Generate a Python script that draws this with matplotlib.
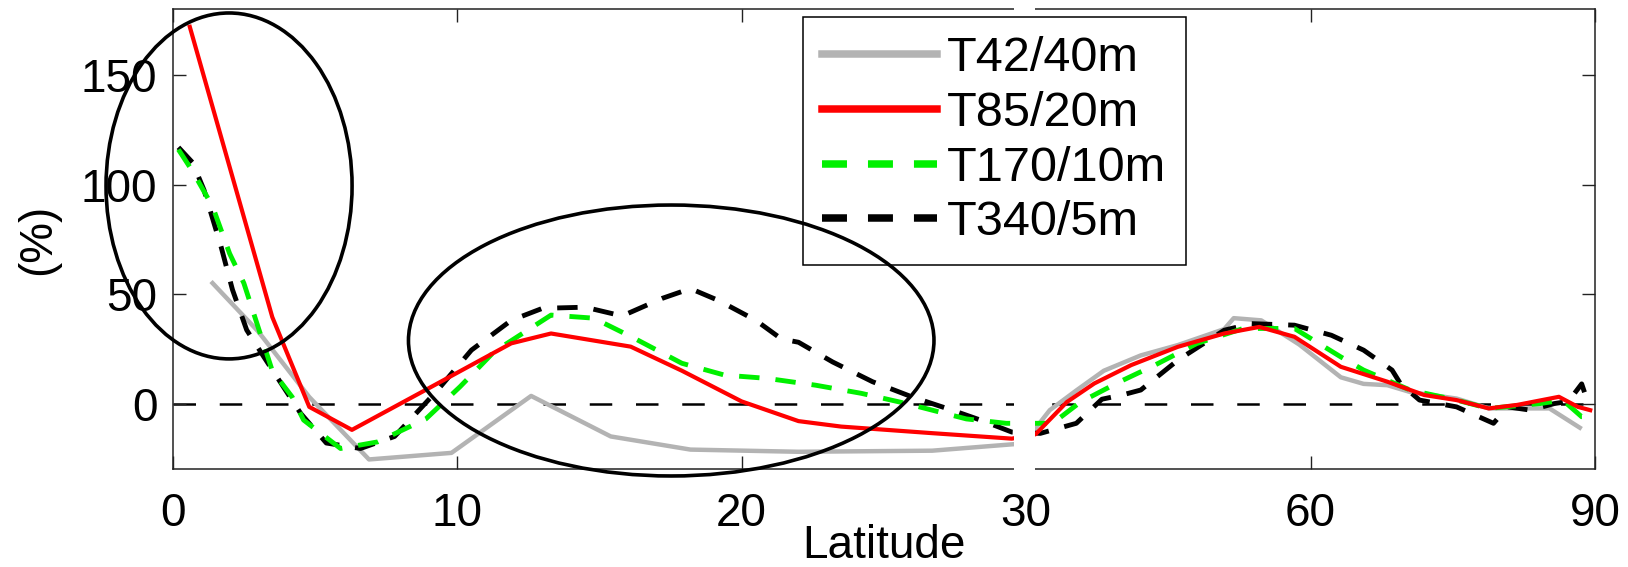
import numpy as np
import matplotlib
matplotlib.use("Agg")
import matplotlib.pyplot as plt
from matplotlib.patches import Ellipse, Rectangle
from matplotlib.transforms import blended_transform_factory

plt.rcParams['font.family'] = ['Liberation Sans', 'DejaVu Sans']

# ---------------- data ----------------
lat_t42 = [1.4, 3.0, 4.8, 6.9, 9.8, 12.6, 15.4, 18.2, 22.0, 26.7, 29.6,
           30.5, 32.5, 35.3, 38.2, 42.1, 46.0, 50.9, 51.9, 54.8, 58.8, 63.2, 65.6,
           68.1, 70.5, 75.4, 78.8, 85.2, 88.4]
val_t42 = [55, 33, 3, -25.5, -22.5, 3.5, -15, -21, -22, -21.5, -18.5,
           -14, -3, 6, 15, 22, 26.7, 34, 39, 38, 27, 12, 9,
           8.4, 5.3, 2.3, -2.2, -2.2, -11]

lat_t85 = [0.6, 3.5, 4.8, 6.3, 9.0, 11.9, 13.3, 16.1, 17.9, 20.0, 22.0, 23.5, 26.7, 29.5,
           31.0, 34.3, 37.2, 41.1, 46.0, 50.9, 54.6, 58.3, 63.2, 68.1, 72.0, 75.4,
           78.8, 81.8, 86.2, 88.2, 89.5]
val_t85 = [172, 39.5, -1.5, -12, 7, 27.5, 32, 26, 15, 1, -8, -10.5, -13.5, -16,
           -14, 0.7, 9.2, 17.6, 25.9, 32, 35, 30.5, 16.8, 10, 3.9, 1.6,
           -2.2, -0.6, 3.1, -1.5, -3]

lat_t170 = [0.2, 0.7, 1.4, 2.0, 2.5, 3.0, 3.5, 4.2, 4.6, 5.9, 7.2, 8.9, 10.1, 11.3, 13.3,
            14.8, 16.2, 17.9, 19.4, 20.9, 22.6, 24.2, 25.8, 27.9, 29.3,
            30.9, 32.8, 35.7, 39.7, 43.6, 48.0, 52.9, 58.3, 63.2, 65.6, 70.5, 75.4,
            78.8, 84.2, 86.6, 88.6, 89.5]
val_t170 = [116, 106, 90, 68.5, 55, 35, 15, 3, -7.5, -20.5, -17.5, -7, 7.7, 23.7, 40.4,
            39, 30, 18.4, 13, 11.5, 8.4, 4.7, 0, -7, -9,
            -9, -9, 0.6, 9.6, 17.6, 27.4, 34.3, 34.3, 21.3, 15.3, 6.2, 1.6,
            -2.2, 0, 1.6, -6, -6]

lat_t340 = [0.2, 0.7, 1.1, 1.7, 2.1, 2.6, 3.2, 4.5, 5.4, 6.6, 7.8, 9.3, 10.5, 11.9, 13.0,
            14.5, 15.8, 17.2, 18.2, 19.2, 20.5, 21.4, 22.0, 23.2, 24.6, 26.0, 27.4, 28.5, 29.5,
            31.5, 35.3, 38.0, 40.2, 42.1, 46.0, 50.9, 53.8, 58.3, 62.2, 65.6, 68.6, 69.5,
            71.5, 75.4, 79.3, 80.8, 83.2, 85.7, 87.2, 88.6, 89.3]
val_t340 = [117, 110, 97.5, 71.6, 52, 33.6, 21.4, -4.5, -18, -20.5, -15, 6, 24.4, 38, 43.5,
            44, 40, 48, 52.5, 47, 38, 29.5, 28, 19, 10, 3, -3, -8, -13,
            -13.6, -9, 2, 4, 6.2, 19.8, 33.5, 36.5, 35.8, 31.2, 24.4, 15.3, 9,
            1.6, -1.5, -9, -1.5, -3, 0, 1, 9, 0]

labels = ['T42/40m', 'T85/20m', 'T170/10m', 'T340/5m']
xticks = [0, 10, 20, 30, 60, 90]
yticks = [0, 50, 100, 150]

# ---------------- figure ----------------
fig = plt.figure(figsize=(16.28, 5.67), dpi=100)
ax = fig.add_axes([0.1061, 0.1723, 0.8736, 0.8113])


def fwd(x):
    x = np.asarray(x, dtype=float)
    return np.where(x <= 30, x, 30 + (x - 30) / 3.0)


def inv(t):
    t = np.asarray(t, dtype=float)
    return np.where(t <= 30, t, 30 + 3.0 * (t - 30))


ax.set_xscale('function', functions=(fwd, inv))

ax.axhline(0, color='black', lw=1.8, dashes=(9, 9.5), zorder=1.5)

l1, = ax.plot(lat_t42, val_t42, color='#b3b3b3', lw=3.2, label=labels[0], zorder=2)
l2, = ax.plot(lat_t85, val_t85, color='#ff0000', lw=3.0, label=labels[1], zorder=2.2)
l3, = ax.plot(lat_t170, val_t170, color='#00f000', lw=3.5, label=labels[2],
              dashes=(4.2, 3.3), zorder=2.1)
l4, = ax.plot(lat_t340, val_t340, color='black', lw=3.5, label=labels[3],
              dashes=(4.2, 3.3), zorder=2.05)

ax.set_xlim(0, 90)
ax.set_ylim(-30, 180)
ax.set_xticks(xticks)
ax.set_xticklabels([str(v) for v in xticks])
ax.set_yticks(yticks)
ax.set_yticklabels([str(v) for v in yticks])
ax.xaxis.set_minor_locator(matplotlib.ticker.NullLocator())

ax.tick_params(axis='both', which='major', direction='in', length=9.4, width=1.0,
               top=True, right=True, labelsize=33, color='#222222')
ax.tick_params(axis='x', pad=16)
ax.tick_params(axis='y', pad=11)
for s in ax.spines.values():
    s.set_linewidth(1.1)
    s.set_color('#222222')

ax.set_xlabel('Latitude', fontsize=33)
ax.xaxis.set_label_coords(0.5, -0.118)
ax.set_ylabel('(%)', fontsize=33)
ax.yaxis.set_label_coords(-0.079, 0.5)

# axis break at 30
btr = blended_transform_factory(ax.transData, ax.transAxes)
x0, x1 = 29.56, 30.9
ax.add_patch(Rectangle((x0, -0.01), x1 - x0, 1.02, transform=btr, facecolor='white',
                       edgecolor='none', clip_on=False, zorder=3))

leg = ax.legend(handles=[l1, l2, l3, l4], loc='upper left', bbox_to_anchor=(0.443, 0.984),
                borderaxespad=0, fontsize=35, handlelength=2.37, handletextpad=0.2,
                labelspacing=0.2, borderpad=0.4, fancybox=False, framealpha=1,
                edgecolor='black')
leg.get_frame().set_linewidth(1.1)
leg.set_zorder(5)
for h in leg.get_lines():
    h.set_linewidth(5.4)
leg.get_lines()[2].set_dashes((3.33, 2.8))
leg.get_lines()[3].set_dashes((3.33, 2.8))

# annotation ellipses
ax.add_patch(Ellipse((0.0396, 0.616), 0.173, 0.752, transform=ax.transAxes, fill=False,
                     edgecolor='black', lw=2.6, clip_on=False, zorder=6))
ax.add_patch(Ellipse((0.3505, 0.28), 0.3695, 0.589, transform=ax.transAxes, fill=False,
                     edgecolor='black', lw=2.6, clip_on=False, zorder=6))

fig.savefig('out.png', dpi=100)
